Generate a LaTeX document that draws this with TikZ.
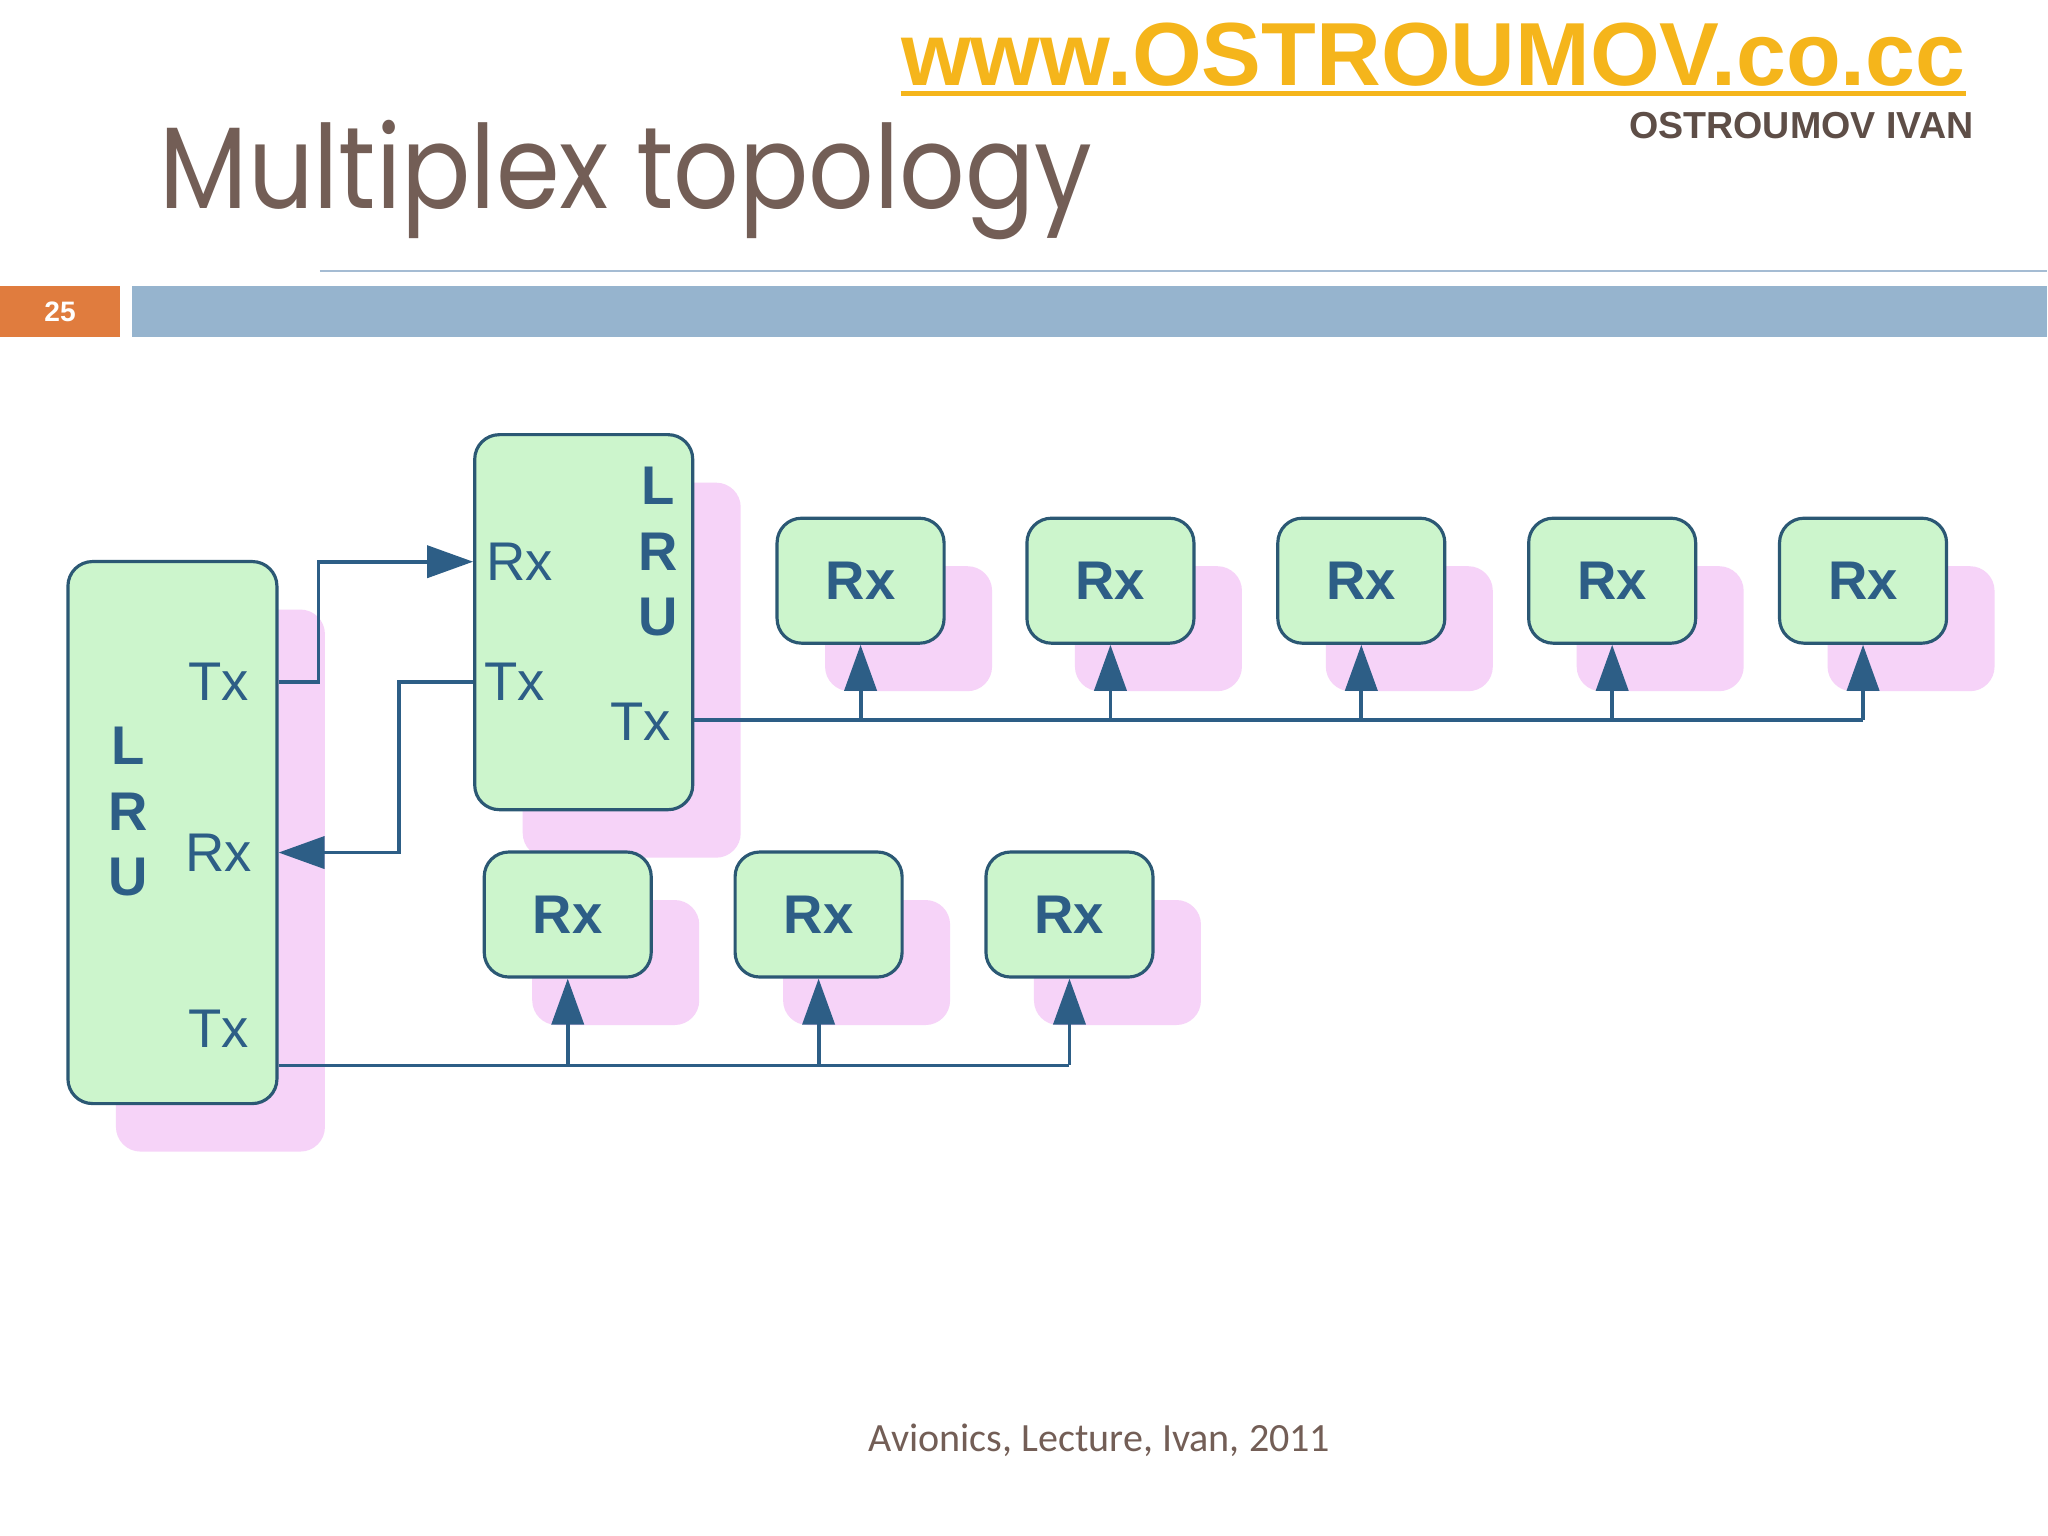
\documentclass[tikz,border=0pt]{standalone}
\usepackage{fontspec}
\setmainfont{Liberation Sans}
\newfontfamily\titlefont{Poppins}[FakeStretch=0.885]
\newfontfamily\footfont{Carlito}
\usetikzlibrary{arrows.meta, shadows}

\definecolor{boxgreen}{HTML}{CCF5CC}
\definecolor{boxedge}{HTML}{2B5874}
\definecolor{wire}{HTML}{2D5E86}
\definecolor{shadepink}{HTML}{F6D3F8}
\definecolor{titlebrown}{HTML}{735E56}
\definecolor{namegray}{HTML}{5E4E47}
\definecolor{urlgold}{HTML}{F5B51B}
\definecolor{barblue}{HTML}{96B4CE}
\definecolor{numorange}{HTML}{E07C3E}
\definecolor{ruleblue}{HTML}{A5BCD3}

\begin{document}
\begin{tikzpicture}[
    x=0.01cm, y=-0.01cm,
    unit/.style={rectangle, draw=boxedge, fill=boxgreen, line width=0.9pt,
                 rounded corners=7pt, inner sep=0pt,
                 drop shadow={shadow xshift=0.48cm, shadow yshift=-0.48cm,
                              fill=shadepink, opacity=1}},
    rxbox/.style={unit, minimum width=1.67cm, minimum height=1.25cm,
                  font=\fontsize{15.5}{18}\selectfont\bfseries, text=wire},
    port/.style={font=\fontsize{15.5}{18}\selectfont, text=wire, inner sep=0pt},
    tag/.style={font=\fontsize{15.5}{18.6}\selectfont\bfseries, text=wire,
                align=center, inner sep=0pt},
    sig/.style={-{Triangle[length=0.46cm, width=0.32cm]}, line width=1.1pt, draw=wire},
    bus/.style={line width=1.1pt, draw=wire},
]

\fill[white] (0,0) rectangle (2048,1536);

% === Slide header ===

\node[font=\fontsize{25.5}{30}\selectfont\bfseries, text=urlgold, anchor=base west,
      inner sep=0pt] (url) at (901,86) {www.OSTROUMOV.co.cc};
\draw[urlgold, line width=1.4pt]
    ([yshift=-0.8mm]url.base west) -- ([yshift=-0.8mm]url.base east);
\node[font=\fontsize{10.7}{13}\selectfont\bfseries, text=namegray, anchor=base east,
      inner sep=0pt] (author) at (1975,139) {OSTROUMOV IVAN};

\node[font=\titlefont\fontsize{33}{40}\selectfont, text=titlebrown, anchor=base west,
      inner sep=0pt] (title) at (159,209) {Multiplex topology};

\draw[ruleblue, line width=0.6pt] (320,271) -- (2048,271);
\node[fill=numorange, minimum width=1.2cm, minimum height=0.51cm, inner sep=0pt,
      text=white, font=\fontsize{8}{9}\selectfont\bfseries] (pgno) at (60,311.5) {25};
\fill[barblue] (132,286) rectangle (2048,337);

% === LRU units ===

\node[unit, minimum width=2.09cm, minimum height=5.42cm] (lru1) at (172.5,833) {};
\node[tag] (name1) at (128,812) {L\\R\\U};
\node[port] (txl1) at (219,682) {Tx};
\node[port] (rxl1) at (219,853) {Rx};
\node[port] (txl2) at (219,1029) {Tx};

\node[unit, minimum width=2.18cm, minimum height=3.75cm] (lru2) at (584,622.5) {};
\node[tag] (name2) at (658,552) {L\\R\\U};
\node[port] (rxr1) at (520,562) {Rx};
\node[port] (txr1) at (515,682) {Tx};
\node[port] (txr2) at (641,722) {Tx};

% links between the two units
\draw[sig] (txl1 -| lru1.east) -- ++(40,0) |- (rxr1 -| lru2.west);
\draw[sig] (txr1 -| lru2.west) -- ++(-74,0) |- (rxl1 -| lru1.east);

% === Receivers on the upper bus ===

\foreach \i/\x in {1/861, 2/1111, 3/1362, 4/1613, 5/1864}
    \node[rxbox] (rxa\i) at (\x,581) {Rx};

\coordinate (busa) at (1864,720);
\draw[bus] (lru2.east |- busa) -- (busa);
\foreach \i in {1,...,5}
    \draw[sig] (rxa\i |- busa) -- (rxa\i.south);

% === Receivers on the lower bus ===

\foreach \i/\x in {1/568, 2/819, 3/1070}
    \node[rxbox] (rxb\i) at (\x,915) {Rx};

\coordinate (busb) at (1070,1066);
\draw[bus] (lru1.east |- busb) -- (busb);
\foreach \i in {1,...,3}
    \draw[sig] (rxb\i |- busb) -- (rxb\i.south);

% === Footer ===

\node[font=\footfont\fontsize{11.4}{14}\selectfont, text=titlebrown, anchor=base,
      inner sep=0pt] (foot) at (1100,1452) {Avionics, Lecture, Ivan, 2011};

\end{tikzpicture}
\end{document}
